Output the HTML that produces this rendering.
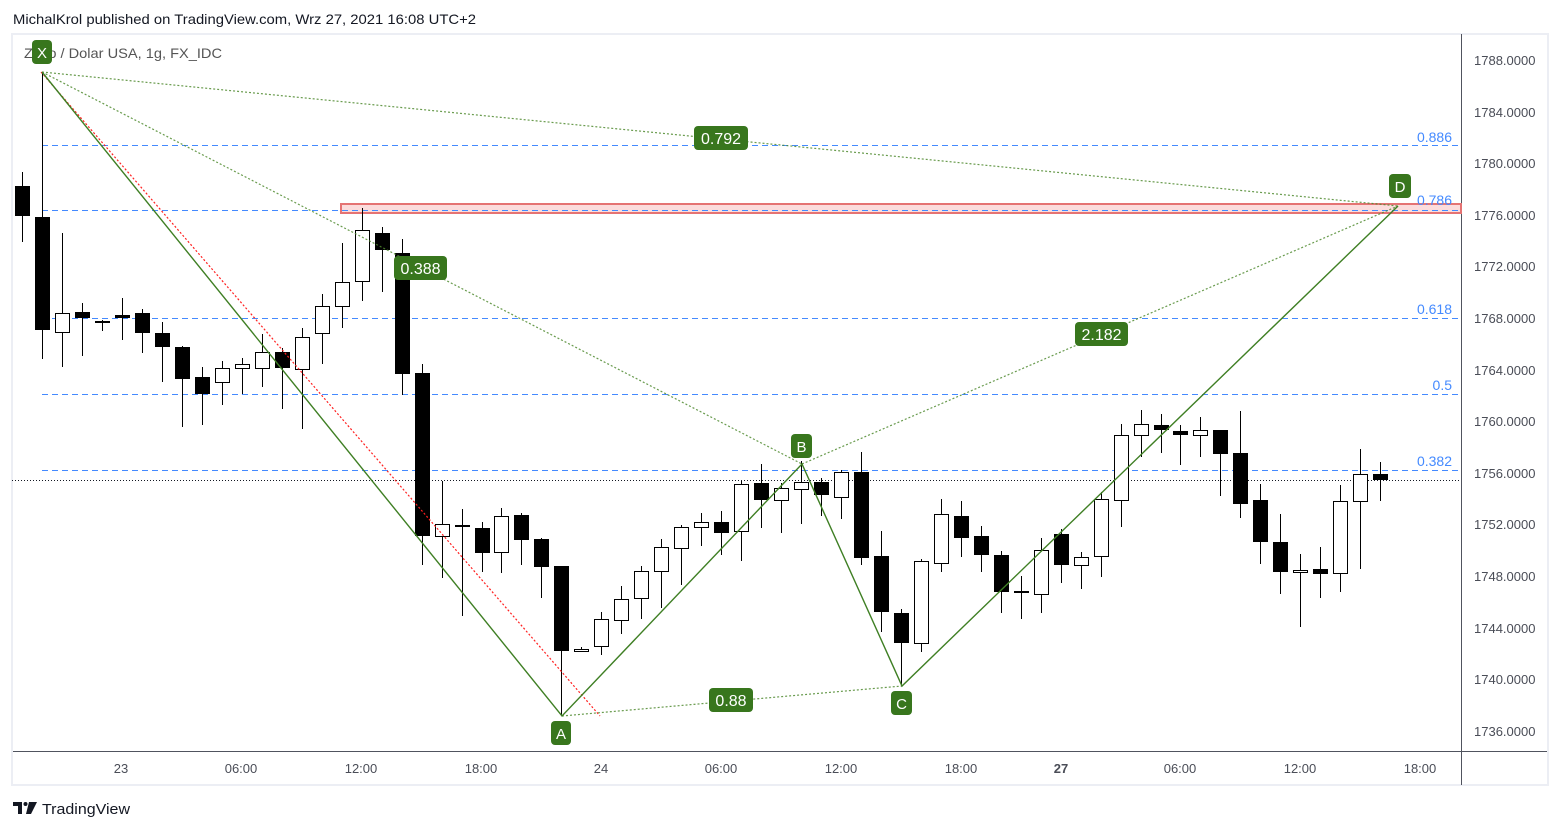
<!DOCTYPE html>
<html><head><meta charset="utf-8"><style>
html,body{margin:0;padding:0;background:#fff;}
svg{display:block;}
text{font-family:"Liberation Sans",sans-serif;}
</style></head><body>
<svg width="1561" height="830" viewBox="0 0 1561 830" xmlns="http://www.w3.org/2000/svg">
<rect x="0" y="0" width="1561" height="830" fill="#fff"/>
<text x="13" y="24" font-size="14" fill="#131722" textLength="463" lengthAdjust="spacingAndGlyphs">MichalKrol published on TradingView.com, Wrz 27, 2021 16:08 UTC+2</text>
<rect x="12" y="34" width="1536" height="751" fill="#fff" stroke="#eceef4" stroke-width="2"/>
<!-- axes -->
<line x1="1461.5" y1="34" x2="1461.5" y2="785" stroke="#50535e" stroke-width="1"/>
<line x1="13" y1="751.5" x2="1547" y2="751.5" stroke="#50535e" stroke-width="1"/>
<g font-size="13" fill="#4a4d57">
<text x="1474" y="65">1788.0000</text>
<text x="1474" y="117">1784.0000</text>
<text x="1474" y="168">1780.0000</text>
<text x="1474" y="220">1776.0000</text>
<text x="1474" y="271">1772.0000</text>
<text x="1474" y="323">1768.0000</text>
<text x="1474" y="375">1764.0000</text>
<text x="1474" y="426">1760.0000</text>
<text x="1474" y="478">1756.0000</text>
<text x="1474" y="529">1752.0000</text>
<text x="1474" y="581">1748.0000</text>
<text x="1474" y="633">1744.0000</text>
<text x="1474" y="684">1740.0000</text>
<text x="1474" y="736">1736.0000</text>
</g>
<g font-size="13" fill="#4a4d57" text-anchor="middle">
<text x="121" y="773">23</text>
<text x="241" y="773">06:00</text>
<text x="361" y="773">12:00</text>
<text x="481" y="773">18:00</text>
<text x="601" y="773">24</text>
<text x="721" y="773">06:00</text>
<text x="841" y="773">12:00</text>
<text x="961" y="773">18:00</text>
<text x="1061" y="773" font-weight="bold">27</text>
<text x="1180" y="773">06:00</text>
<text x="1300" y="773">12:00</text>
<text x="1420" y="773">18:00</text>
</g>
<text x="24" y="58" font-size="14" fill="#555" textLength="198" lengthAdjust="spacingAndGlyphs">Złoto / Dolar USA, 1g, FX_IDC</text>

<!-- red zone -->
<rect x="341" y="204" width="1120" height="9" fill="#fbdcdc" stroke="#e57373" stroke-width="2"/>

<!-- fib lines -->
<g stroke="#448aff" stroke-width="1" stroke-dasharray="6 4">
<line x1="42" y1="145.5" x2="1461" y2="145.5"/>
<line x1="42" y1="210.5" x2="1461" y2="210.5"/>
<line x1="42" y1="318.5" x2="1461" y2="318.5"/>
<line x1="42" y1="394.5" x2="1461" y2="394.5"/>
<line x1="42" y1="470.5" x2="1461" y2="470.5"/>
</g>
<g font-size="14" fill="#448aff" text-anchor="end">
<text x="1452" y="142">0.886</text>
<text x="1452" y="205">0.786</text>
<text x="1452" y="314">0.618</text>
<text x="1452" y="390">0.5</text>
<text x="1452" y="466">0.382</text>
</g>

<!-- current price line -->
<line x1="12" y1="480.5" x2="1461" y2="480.5" stroke="#131722" stroke-width="1" stroke-dasharray="1 2"/>

<!-- candles -->
<g stroke="#000" stroke-width="1">
<!-- wicks -->
<line x1="22.5" y1="172" x2="22.5" y2="242"/>
<line x1="42.5" y1="72" x2="42.5" y2="359"/>
<line x1="62.5" y1="233" x2="62.5" y2="367"/>
<line x1="82.5" y1="303" x2="82.5" y2="356"/>
<line x1="102.5" y1="320" x2="102.5" y2="331"/>
<line x1="122.5" y1="298" x2="122.5" y2="340"/>
<line x1="142.5" y1="309" x2="142.5" y2="353"/>
<line x1="162.5" y1="322" x2="162.5" y2="382"/>
<line x1="182.5" y1="346" x2="182.5" y2="427"/>
<line x1="202.5" y1="367" x2="202.5" y2="425"/>
<line x1="222.5" y1="361" x2="222.5" y2="405"/>
<line x1="242.5" y1="358" x2="242.5" y2="394"/>
<line x1="262.5" y1="334" x2="262.5" y2="387"/>
<line x1="282.5" y1="348" x2="282.5" y2="409"/>
<line x1="302.5" y1="328" x2="302.5" y2="429"/>
<line x1="322.5" y1="294" x2="322.5" y2="364"/>
<line x1="342.5" y1="243" x2="342.5" y2="328"/>
<line x1="362.5" y1="208" x2="362.5" y2="301"/>
<line x1="382.5" y1="227" x2="382.5" y2="292"/>
<line x1="402.5" y1="239" x2="402.5" y2="395"/>
<line x1="422.5" y1="364" x2="422.5" y2="565"/>
<line x1="442.5" y1="481" x2="442.5" y2="578"/>
<line x1="462.5" y1="509" x2="462.5" y2="616"/>
<line x1="482.5" y1="522" x2="482.5" y2="572"/>
<line x1="501.5" y1="508" x2="501.5" y2="573"/>
<line x1="521.5" y1="513" x2="521.5" y2="565"/>
<line x1="541.5" y1="538" x2="541.5" y2="598"/>
<line x1="561.5" y1="566" x2="561.5" y2="716"/>
<line x1="581.5" y1="647" x2="581.5" y2="652"/>
<line x1="601.5" y1="612" x2="601.5" y2="655"/>
<line x1="621.5" y1="586" x2="621.5" y2="634"/>
<line x1="641.5" y1="566" x2="641.5" y2="619"/>
<line x1="661.5" y1="539" x2="661.5" y2="608"/>
<line x1="681.5" y1="525" x2="681.5" y2="585"/>
<line x1="701.5" y1="513" x2="701.5" y2="546"/>
<line x1="721.5" y1="511" x2="721.5" y2="555"/>
<line x1="741.5" y1="481" x2="741.5" y2="561"/>
<line x1="761.5" y1="464" x2="761.5" y2="528"/>
<line x1="781.5" y1="483" x2="781.5" y2="533"/>
<line x1="801.5" y1="461" x2="801.5" y2="524"/>
<line x1="821.5" y1="478" x2="821.5" y2="516"/>
<line x1="841.5" y1="470" x2="841.5" y2="519"/>
<line x1="861.5" y1="452" x2="861.5" y2="565"/>
<line x1="881.5" y1="531" x2="881.5" y2="632"/>
<line x1="901.5" y1="609" x2="901.5" y2="686"/>
<line x1="921.5" y1="559" x2="921.5" y2="652"/>
<line x1="941.5" y1="499" x2="941.5" y2="572"/>
<line x1="961.5" y1="501" x2="961.5" y2="557"/>
<line x1="981.5" y1="526" x2="981.5" y2="572"/>
<line x1="1001.5" y1="551" x2="1001.5" y2="613"/>
<line x1="1021.5" y1="576" x2="1021.5" y2="619"/>
<line x1="1041.5" y1="538" x2="1041.5" y2="613"/>
<line x1="1061.5" y1="529" x2="1061.5" y2="583"/>
<line x1="1081.5" y1="552" x2="1081.5" y2="589"/>
<line x1="1101.5" y1="492" x2="1101.5" y2="577"/>
<line x1="1121.5" y1="424" x2="1121.5" y2="527"/>
<line x1="1141.5" y1="410" x2="1141.5" y2="457"/>
<line x1="1161.5" y1="414" x2="1161.5" y2="453"/>
<line x1="1180.5" y1="425" x2="1180.5" y2="465"/>
<line x1="1200.5" y1="417" x2="1200.5" y2="457"/>
<line x1="1220.5" y1="430" x2="1220.5" y2="496"/>
<line x1="1240.5" y1="411" x2="1240.5" y2="518"/>
<line x1="1260.5" y1="484" x2="1260.5" y2="564"/>
<line x1="1280.5" y1="514" x2="1280.5" y2="594"/>
<line x1="1300.5" y1="554" x2="1300.5" y2="627"/>
<line x1="1320.5" y1="547" x2="1320.5" y2="598"/>
<line x1="1340.5" y1="485" x2="1340.5" y2="592"/>
<line x1="1360.5" y1="449" x2="1360.5" y2="569"/>
<line x1="1380.5" y1="462" x2="1380.5" y2="501"/>
</g>
<!-- black bodies -->
<g fill="#000">
<rect x="15" y="186" width="15" height="30"/>
<rect x="35" y="217" width="15" height="113"/>
<rect x="75" y="312" width="15" height="6"/>
<rect x="95" y="321" width="15" height="2"/>
<rect x="115" y="315" width="15" height="3"/>
<rect x="135" y="313" width="15" height="20"/>
<rect x="155" y="333" width="15" height="14"/>
<rect x="175" y="347" width="15" height="32"/>
<rect x="195" y="377" width="15" height="17"/>
<rect x="275" y="352" width="15" height="16"/>
<rect x="375" y="233" width="15" height="17"/>
<rect x="395" y="253" width="15" height="121"/>
<rect x="415" y="373" width="15" height="163"/>
<rect x="455" y="525" width="15" height="2"/>
<rect x="475" y="528" width="15" height="25"/>
<rect x="514" y="515" width="15" height="25"/>
<rect x="534" y="539" width="15" height="28"/>
<rect x="554" y="566" width="15" height="85"/>
<rect x="714" y="522" width="15" height="11"/>
<rect x="754" y="483" width="15" height="17"/>
<rect x="814" y="482" width="15" height="13"/>
<rect x="854" y="472" width="15" height="86"/>
<rect x="874" y="556" width="15" height="56"/>
<rect x="894" y="613" width="15" height="30"/>
<rect x="954" y="516" width="15" height="22"/>
<rect x="974" y="536" width="15" height="19"/>
<rect x="994" y="555" width="15" height="37"/>
<rect x="1014" y="591" width="15" height="2"/>
<rect x="1054" y="534" width="15" height="31"/>
<rect x="1154" y="425" width="15" height="5"/>
<rect x="1173" y="431" width="15" height="4"/>
<rect x="1213" y="430" width="15" height="24"/>
<rect x="1233" y="453" width="15" height="51"/>
<rect x="1253" y="500" width="15" height="42"/>
<rect x="1273" y="542" width="15" height="30"/>
<rect x="1313" y="569" width="15" height="5"/>
<rect x="1373" y="474" width="15" height="6"/>
</g>
<!-- white bodies -->
<g fill="#fff" stroke="#000" stroke-width="1">
<rect x="55.5" y="313.5" width="14" height="19"/>
<rect x="215.5" y="368.5" width="14" height="14"/>
<rect x="235.5" y="364.5" width="14" height="4"/>
<rect x="255.5" y="352.5" width="14" height="16"/>
<rect x="295.5" y="337.5" width="14" height="32"/>
<rect x="315.5" y="306.5" width="14" height="27"/>
<rect x="335.5" y="282.5" width="14" height="24"/>
<rect x="355.5" y="230.5" width="14" height="51"/>
<rect x="435.5" y="524.5" width="14" height="12"/>
<rect x="494.5" y="516.5" width="14" height="36"/>
<rect x="574.5" y="649.5" width="14" height="2"/>
<rect x="594.5" y="619.5" width="14" height="27"/>
<rect x="614.5" y="599.5" width="14" height="21"/>
<rect x="634.5" y="571.5" width="14" height="27"/>
<rect x="654.5" y="547.5" width="14" height="24"/>
<rect x="674.5" y="527.5" width="14" height="21"/>
<rect x="694.5" y="522.5" width="14" height="5"/>
<rect x="734.5" y="484.5" width="14" height="47"/>
<rect x="774.5" y="488.5" width="14" height="12"/>
<rect x="794.5" y="482.5" width="14" height="7"/>
<rect x="834.5" y="472.5" width="14" height="25"/>
<rect x="914.5" y="561.5" width="14" height="82"/>
<rect x="934.5" y="514.5" width="14" height="49"/>
<rect x="1034.5" y="550.5" width="14" height="44"/>
<rect x="1074.5" y="557.5" width="14" height="8"/>
<rect x="1094.5" y="499.5" width="14" height="57"/>
<rect x="1114.5" y="435.5" width="14" height="65"/>
<rect x="1134.5" y="424.5" width="14" height="11"/>
<rect x="1193.5" y="430.5" width="14" height="5"/>
<rect x="1293.5" y="570.5" width="14" height="2"/>
<rect x="1333.5" y="501.5" width="14" height="72"/>
<rect x="1353.5" y="474.5" width="14" height="27"/>
</g>

<!-- pattern dotted lines -->
<g fill="none" stroke-width="1.2" stroke-dasharray="2 2">
<line x1="41" y1="72" x2="600" y2="716" stroke="#ff2020"/>
<g stroke="#4f8a2f" opacity="0.85">
<line x1="42" y1="72" x2="802" y2="464"/>
<line x1="42" y1="72" x2="1398" y2="206"/>
<line x1="562" y1="716" x2="902" y2="686"/>
<line x1="802" y1="464" x2="1398" y2="206"/>
</g>
</g>
<!-- pattern solid lines -->
<polyline points="42,72 562,716 802,464 902,686 1398,206" fill="none" stroke="#3f7f24" stroke-width="1.4"/>

<!-- ratio labels -->
<g font-size="16" fill="#fff" text-anchor="middle">
<rect x="694" y="126" width="54" height="24" rx="4" fill="#38761d"/>
<text x="721" y="144">0.792</text>
<rect x="394" y="256" width="53" height="24" rx="4" fill="#38761d"/>
<text x="420.5" y="274">0.388</text>
<rect x="1075" y="322" width="53" height="24" rx="4" fill="#38761d"/>
<text x="1101.5" y="340">2.182</text>
<rect x="709" y="688" width="44" height="24" rx="4" fill="#38761d"/>
<text x="731" y="706">0.88</text>
</g>
<g font-size="15" fill="#fff" text-anchor="middle">
<rect x="32" y="40" width="20" height="24" rx="4" fill="#38761d"/>
<text x="42" y="58">X</text>
<rect x="551" y="721" width="20" height="24" rx="4" fill="#38761d"/>
<text x="561" y="739">A</text>
<rect x="791" y="434" width="21" height="24" rx="4" fill="#38761d"/>
<text x="801.5" y="452">B</text>
<rect x="891" y="691" width="21" height="24" rx="4" fill="#38761d"/>
<text x="901.5" y="709">C</text>
<rect x="1389" y="174" width="22" height="24" rx="4" fill="#38761d"/>
<text x="1400" y="192">D</text>
</g>

<!-- TradingView logo -->
<g fill="#131722">
<path d="M13 802 h9 v12 h-4 v-8 h-5 z"/>
<circle cx="25.5" cy="804" r="2"/>
<path d="M29 802 h8 l-6 12 h-5 z"/>
</g>
<text x="42" y="814" font-size="15" fill="#131722" textLength="88" lengthAdjust="spacingAndGlyphs">TradingView</text>
</svg>
</body></html>
